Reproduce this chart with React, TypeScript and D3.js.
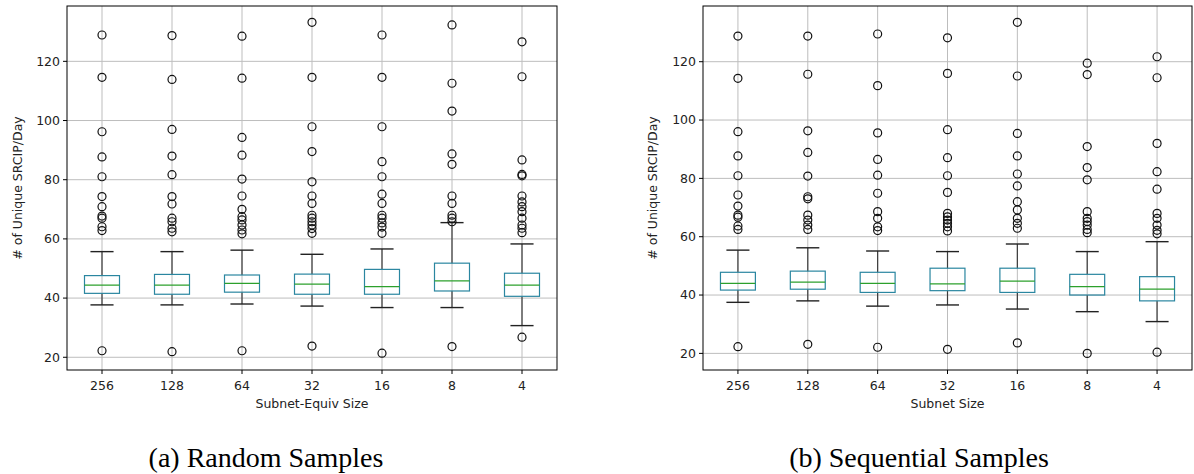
import React from "react";
import * as d3 from "d3";

const categories = ["256", "128", "64", "32", "16", "8", "4"];
const yTicks = [20, 40, 60, 80, 100, 120];

// Random samples panel
const randWhiskerLow = [37.7, 37.7, 38, 37.3, 36.8, 36.8, 30.7];
const randQ1 = [41.6, 41.3, 42, 41.3, 41.3, 42.4, 40.6];
const randMedian = [44.4, 44.4, 45, 44.7, 43.9, 45.8, 44.4];
const randQ3 = [47.6, 48, 47.8, 48.1, 49.7, 51.8, 48.4];
const randWhiskerHigh = [55.7, 55.7, 56.2, 54.8, 56.6, 65.5, 58.3];
const randFliers = [
  [22.2, 62.8, 64.1, 67, 67.7, 70.9, 74.3, 81, 87.7, 96.2, 114.6, 128.9],
  [21.9, 62.4, 63.6, 65.8, 67, 71.8, 74.3, 81.7, 88, 97, 113.9, 128.7],
  [22.2, 61.7, 63, 64.7, 66.4, 67.5, 70, 74.5, 80.2, 88.3, 94.3, 114.3, 128.5],
  [23.8, 61.9, 63.5, 64.7, 65.8, 67, 68, 72, 74.5, 79.3, 89.5, 97.9, 114.6, 133.2],
  [21.4, 61.9, 64, 65.4, 67, 68, 72, 75.1, 81, 86.1, 97.9, 114.6, 128.9],
  [23.6, 65.8, 67, 68, 72, 74.5, 85.2, 88.7, 103.2, 112.6, 132.3],
  [26.8, 62.1, 63.6, 64.7, 67, 69.2, 70.9, 72.5, 74.5, 81.3, 81.8, 86.7, 114.8, 126.6],
];

// Sequential samples panel
const seqWhiskerLow = [37.5, 38, 36.2, 36.6, 35.2, 34.3, 30.9];
const seqQ1 = [41.7, 42, 40.9, 41.5, 40.9, 40, 38];
const seqMedian = [44, 44.4, 44, 43.8, 44.8, 42.9, 42];
const seqQ3 = [47.8, 48.2, 47.8, 49.2, 49.2, 47.1, 46.3];
const seqWhiskerHigh = [55.4, 56.2, 55.1, 54.9, 57.5, 54.9, 58.3];
const seqFliers = [
  [22.3, 62.5, 63.7, 66.7, 67.4, 70.5, 74.3, 80.9, 87.7, 96, 114.3, 128.8],
  [23.1, 62.5, 64, 65.7, 67.4, 73, 73.7, 80.8, 88.9, 96.3, 115.7, 128.8],
  [22.1, 62.1, 63.4, 66.3, 68.6, 74.9, 81.1, 86.5, 95.6, 111.8, 129.5],
  [21.4, 62, 63.4, 64.6, 65.7, 66.8, 68, 75.2, 80.9, 87.1, 96.7, 116, 128.2],
  [23.6, 62.9, 64.6, 66.3, 69.2, 72, 77.4, 81.5, 87.7, 95.4, 115.1, 133.5],
  [20, 61.4, 62.5, 64, 65.2, 66.3, 68.6, 79.5, 83.7, 90.9, 115.6, 119.5],
  [20.4, 61, 62.2, 64, 66.3, 68, 76.3, 82.3, 92, 114.5, 121.7],
];

const BOX = "#2a86a0";
const MED = "#2ca02c";
const WHISK = "#3c3c3c";
const GRID = "#bdbdbd";
const SANS = "'DejaVu Sans', sans-serif";
const SERIF = "'Liberation Serif', 'DejaVu Serif', serif";

type PanelProps = {
  left: number;
  right: number;
  top: number;
  bottom: number;
  yDomain: [number, number];
  wl: number[];
  q1: number[];
  med: number[];
  q3: number[];
  wh: number[];
  fliers: number[][];
  xLabel: string;
  caption: string;
  captionX: number;
  yLabelX: number;
};

function Panel(p: PanelProps) {
  const x = d3.scaleBand<string>().domain(categories).range([p.left, p.right]).padding(0);
  const y = d3.scaleLinear().domain(p.yDomain).range([p.bottom, p.top]);
  const bw = x.bandwidth();
  const boxW = bw * 0.5;
  const capW = bw * 0.33;
  const cx = (c: string) => (x(c) as number) + bw / 2;
  const midX = (p.left + p.right) / 2;
  return (
    <g>
      {yTicks.map((t) => (
        <line key={"gy" + t} x1={p.left} x2={p.right} y1={y(t)} y2={y(t)} stroke={GRID} strokeWidth={1} />
      ))}
      {categories.map((c) => (
        <line key={"gx" + c} x1={cx(c)} x2={cx(c)} y1={p.top} y2={p.bottom} stroke={GRID} strokeWidth={1} />
      ))}
      {categories.map((c, i) => {
        const xc = cx(c);
        return (
          <g key={"b" + c}>
            <line x1={xc} x2={xc} y1={y(p.q3[i])} y2={y(p.wh[i])} stroke={WHISK} strokeWidth={1.2} />
            <line x1={xc} x2={xc} y1={y(p.q1[i])} y2={y(p.wl[i])} stroke={WHISK} strokeWidth={1.2} />
            <line x1={xc - capW / 2} x2={xc + capW / 2} y1={y(p.wh[i])} y2={y(p.wh[i])} stroke="#222" strokeWidth={1.4} />
            <line x1={xc - capW / 2} x2={xc + capW / 2} y1={y(p.wl[i])} y2={y(p.wl[i])} stroke="#222" strokeWidth={1.4} />
            <rect
              x={xc - boxW / 2}
              y={y(p.q3[i])}
              width={boxW}
              height={y(p.q1[i]) - y(p.q3[i])}
              fill="none"
              stroke={BOX}
              strokeWidth={1.2}
            />
            <line x1={xc - boxW / 2} x2={xc + boxW / 2} y1={y(p.med[i])} y2={y(p.med[i])} stroke={MED} strokeWidth={1.2} />
            {p.fliers[i].map((v, j) => (
              <circle key={j} cx={xc} cy={y(v)} r={4} fill="none" stroke="#111" strokeWidth={1.2} />
            ))}
          </g>
        );
      })}
      <rect x={p.left} y={p.top} width={p.right - p.left} height={p.bottom - p.top} fill="none" stroke="#000" strokeWidth={1} />
      {yTicks.map((t) => (
        <g key={"ty" + t}>
          <line x1={p.left - 4} x2={p.left} y1={y(t)} y2={y(t)} stroke="#000" />
          <text x={p.left - 7} y={y(t)} dy="0.35em" textAnchor="end" fontFamily={SANS} fontSize={12.5} fill="#222">
            {t}
          </text>
        </g>
      ))}
      {categories.map((c) => (
        <g key={"tx" + c}>
          <line x1={cx(c)} x2={cx(c)} y1={p.bottom} y2={p.bottom + 4} stroke="#000" />
          <text x={cx(c)} y={p.bottom + 20} textAnchor="middle" fontFamily={SANS} fontSize={12.5} fill="#222">
            {c}
          </text>
        </g>
      ))}
      <text x={midX} y={p.bottom + 38} textAnchor="middle" fontFamily={SANS} fontSize={12.5} fill="#222">
        {p.xLabel}
      </text>
      <text
        transform={`translate(${p.yLabelX},${(p.top + p.bottom) / 2}) rotate(-90)`}
        textAnchor="middle"
        dy="0.35em"
        fontFamily={SANS}
        fontSize={12.5}
        fill="#222"
      >
        # of Unique SRCIP/Day
      </text>
      <text x={p.captionX} y={467} textAnchor="middle" fontFamily={SERIF} fontSize={28} fill="#000">
        {p.caption}
      </text>
    </g>
  );
}

export default function App() {
  return (
    <svg width={1194} height={474} style={{ position: "absolute", left: 0, top: 0, background: "#fff" }}>
      <rect width={1194} height={474} fill="#fff" />
      <Panel
        left={67}
        right={557}
        top={6}
        bottom={370}
        yDomain={[15.7, 138.7]}
        wl={randWhiskerLow}
        q1={randQ1}
        med={randMedian}
        q3={randQ3}
        wh={randWhiskerHigh}
        fliers={randFliers}
        xLabel="Subnet-Equiv Size"
        caption="(a) Random Samples"
        captionX={266}
        yLabelX={18}
      />
      <Panel
        left={703}
        right={1192}
        top={6}
        bottom={370}
        yDomain={[14.3, 139.1]}
        wl={seqWhiskerLow}
        q1={seqQ1}
        med={seqMedian}
        q3={seqQ3}
        wh={seqWhiskerHigh}
        fliers={seqFliers}
        xLabel="Subnet Size"
        caption="(b) Sequential Samples"
        captionX={919}
        yLabelX={653}
      />
    </svg>
  );
}
